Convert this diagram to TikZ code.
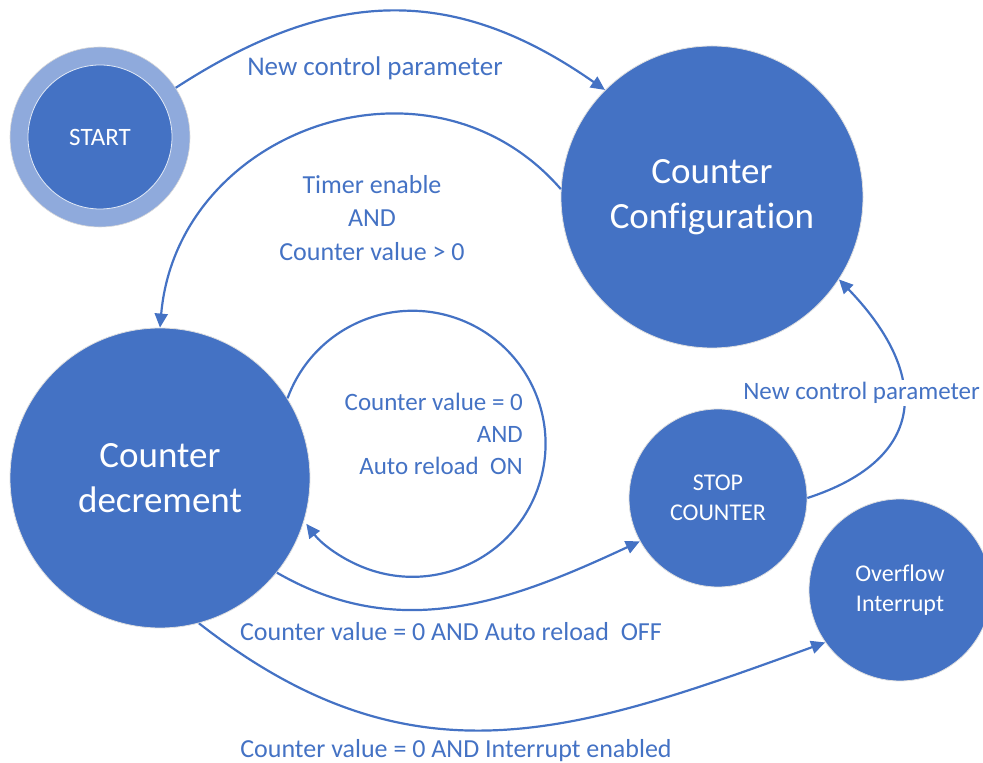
\documentclass[tikz,border=0pt]{standalone}
\usepackage{fontspec}
\setmainfont{Carlito}[Ligatures=NoCommon]
\usetikzlibrary{arrows.meta}
\definecolor{mainblue}{HTML}{4472C4}
\definecolor{ringblue}{HTML}{8FAADC}
\begin{document}
\begin{tikzpicture}[x=1pt,y=1pt,
 state/.style={circle, fill=mainblue, draw=white!75!gray, line width=0.8pt, inner sep=0pt, text=white, align=center},
 bigtext/.style={font=\fontsize{37}{45}\selectfont},
 smalltext/.style={font=\fontsize{24}{30}\selectfont},
 edge/.style={draw=mainblue, line width=2.2pt, -{Triangle[length=14pt,width=13pt]}},
 lbl/.style={text=mainblue, font=\fontsize{26}{33.5}\selectfont, align=center, inner sep=0pt},
 ]
\path[use as bounding box] (0,0) rectangle (983,763);
\clip (0,0) rectangle (983,763);

% nodes
\node[circle, fill=ringblue, draw=white!70!gray, line width=0.6pt, minimum size=180pt, inner sep=0pt] (startring) at (100,626) {};
\node[state, draw=white!85!mainblue, minimum size=144pt, font=\fontsize{25}{30}\selectfont] (start) at (100,626) {START};
\node[state, bigtext, minimum size=302pt] (cfg) at (712,566) {Counter\\Configuration};
\node[state, bigtext, minimum size=300pt] (dec) at (160,285) {Counter\\decrement};
\node[state, smalltext, minimum size=178pt] (stop) at (718,265) {STOP\\COUNTER};
\node[state, smalltext, minimum size=182pt] (ovf) at (900,173) {Overflow\\Interrupt};

% edges
\draw[edge] (startring.33) to[out=33, in=145, looseness=1.1] (cfg.135);
\draw[edge] (cfg.177) to[out=131, in=85, looseness=1.2] (dec.north);
\draw[edge] (dec.32) arc[start angle=160, end angle=-143, radius=133pt];
\draw[edge] (dec.-39) to[out=-30, in=205] (stop.209);
\draw[edge] (dec.-75) to[out=-38, in=200, looseness=1.1] (ovf.215);
\draw[edge] (stop.0) to[out=18, in=-46, looseness=1.5] (cfg.-33);

% labels
\node[lbl, font=\fontsize{27}{33.5}\selectfont] (l1) at (375,695) {New control parameter};
\node[lbl] (l2) at (372,545) {Timer enable\\AND\\Counter value > 0};
\node[lbl, align=right, anchor=east, font=\fontsize{25}{32}\selectfont] (l3) at (523,329) {Counter value = 0\\AND\\Auto reload\ \ ON};
\node[lbl, fill=white, inner sep=2pt, anchor=east, font=\fontsize{25}{32}\selectfont] (l4) at (982,370) {New control parameter};
\node[lbl] (l5) at (451,131) {Counter value = 0 AND Auto reload\ \ OFF};
\node[lbl] (l6) at (456,12) {Counter value = 0 AND Interrupt enabled};
\end{tikzpicture}
\end{document}
